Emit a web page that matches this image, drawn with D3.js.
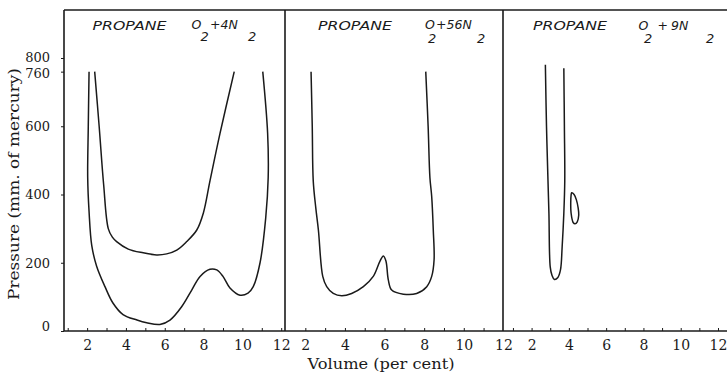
<!DOCTYPE html>
<html><head><meta charset="utf-8">
<script src="https://cdn.jsdelivr.net/npm/d3@7"></script>
<style>
html,body{margin:0;padding:0;background:#fff;}
svg{display:block;}
.tick text{font-family:"DejaVu Serif",serif;fill:#1a1a1a;}
</style></head>
<body>
<svg id="chart" width="727" height="374"></svg>
<script>
// ---------- data ----------
const yTicks = [0, 200, 400, 600, 760, 800];
const xTicks = [2, 4, 6, 8, 10, 12];
const panelTitles = ["PROPANE", "PROPANE", "PROPANE"];
const panelMixtures = [
  [["O", 0], ["2", 1], ["+4N", 0], ["2", 1]],
  [["O", 0], ["2", 1], ["+56N", 0], ["2", 1]],
  [["O", 0], ["2", 1], ["+", 0], ["9N", 0], ["2", 1]]
];
const xLabel = "Volume (per cent)";
const yLabel = "Pressure (mm. of mercury)";

// panel 1 (O2 + 4N2): outer (lower) boundary
const p1Lower = [[2.1,760],[2.06,600],[2.03,450],[2.1,350],[2.24,250],[2.49,190],[2.92,130],[3.33,82],[3.85,48],[4.57,32],[5.07,24],[5.75,19],[6.27,32],[6.87,71],[7.39,120],[7.82,160],[8.33,181],[8.68,179],[9.0,160],[9.36,126],[9.88,105],[10.29,111],[10.56,130],[10.91,200],[11.2,330],[11.33,450],[11.3,580],[11.05,760]];
// panel 1: inner (upper) boundary
const p1Upper = [[2.39,760],[2.62,600],[2.85,430],[3.09,300],[3.3,275],[3.52,262],[4.12,240],[4.89,229],[5.58,223],[6.1,226],[6.62,237],[7.13,262],[7.65,296],[7.99,346],[8.33,440],[8.85,580],[9.58,760]];
// panel 2 (O2 + 5.6N2)
const p2Curve = [[2.29,760],[2.35,600],[2.4,440],[2.53,360],[2.66,296],[2.88,160],[3.08,130],[3.41,110],[3.84,103],[4.34,110],[4.93,130],[5.43,160],[5.77,205],[5.94,220],[6.07,205],[6.19,150],[6.36,120],[6.95,108],[7.62,110],[8.13,130],[8.38,160],[8.5,208],[8.46,296],[8.38,394],[8.29,450],[8.2,600],[8.08,760]];
// panel 3 (O2 + 9N2)
const p3Curve = [[2.74,780],[2.8,600],[2.88,440],[2.93,345],[3.0,188],[3.09,164],[3.23,151],[3.41,157],[3.55,179],[3.64,247],[3.73,345],[3.78,440],[3.76,600],[3.73,770]];
const p3Island = [[4.15,405],[4.28,400],[4.4,385],[4.5,360],[4.53,340],[4.45,320],[4.33,314],[4.23,318],[4.12,345],[4.1,375],[4.12,398]];

// ---------- layout ----------
const ink = "#1a1a1a";
const topY = 10, bottomY = 331;
const borders = [64, 285, 503];
const panelRanges = [[48.3, 281.2], [265.7, 503.4], [494.3, 718]];
const svg = d3.select("#chart");

const y = d3.scaleLinear().domain([0, 800]).range([bottomY, 58]);
const xs = panelRanges.map(r => d3.scaleLinear().domain([0, 12]).range(r));

// frame
svg.append("line").attr("x1", 64).attr("x2", 727).attr("y1", topY).attr("y2", topY)
  .attr("stroke", ink).attr("stroke-width", 1.6);
svg.append("line").attr("x1", 64).attr("x2", 727).attr("y1", bottomY).attr("y2", bottomY)
  .attr("stroke", ink).attr("stroke-width", 1.6);
borders.forEach(b => svg.append("line").attr("x1", b).attr("x2", b).attr("y1", topY).attr("y2", bottomY)
  .attr("stroke", ink).attr("stroke-width", 1.6));

// y axis
const yAxis = svg.append("g").attr("transform", `translate(64,0)`)
  .call(d3.axisLeft(y).tickValues(yTicks).tickSize(3).tickPadding(11));
yAxis.select(".domain").remove();
yAxis.selectAll("line").attr("stroke", ink);
yAxis.selectAll("text").attr("font-size", 13)
  .attr("dy", d => d === 0 ? "-0.05em" : d === 800 ? "0.25em" : d === 760 ? "0.42em" : "0.34em");

// x axes
xs.forEach((x, i) => {
  const g = svg.append("g").attr("transform", `translate(0,${bottomY})`)
    .call(d3.axisBottom(x).tickValues(xTicks).tickSize(0).tickPadding(9));
  g.select(".domain").remove();
  g.selectAll("text").attr("font-size", 14);
  const lo = borders[i] + 2, hi = (borders[i + 1] || 727) - 2;
  const m = svg.append("g").attr("transform", `translate(0,${bottomY})`)
    .call(d3.axisBottom(x).tickValues(d3.range(1, 13).filter(v => x(v) > lo && x(v) < hi)).tickSize(-3).tickFormat(""));
  m.select(".domain").remove();
  m.selectAll("line").attr("stroke", ink);
});

// curves
const line = d3.line().x(d => d[0]).y(d => d[1]).curve(d3.curveCatmullRom.alpha(0.5));
const closed = d3.line().x(d => d[0]).y(d => d[1]).curve(d3.curveCatmullRomClosed.alpha(0.5));
function draw(data, x, gen) {
  svg.append("path").attr("d", gen(data.map(d => [x(d[0]), y(d[1])])))
    .attr("fill", "none").attr("stroke", ink).attr("stroke-width", 1.5)
    .attr("stroke-linejoin", "round");
}
draw(p1Lower, xs[0], line);
draw(p1Upper, xs[0], line);
draw(p2Curve, xs[1], line);
draw(p3Curve, xs[2], line);
draw(p3Island, xs[2], closed);

// titles
const titleFont = "'DejaVu Sans', sans-serif";
const titleX = [92.5, 318, 533];
panelTitles.forEach((t, i) => {
  svg.append("text").attr("x", titleX[i]).attr("y", 29.5)
    .attr("font-family", titleFont).attr("font-style", "italic").attr("font-weight", 300)
    .attr("font-size", 12.5).attr("fill", ink)
    .attr("textLength", 74).attr("lengthAdjust", "spacingAndGlyphs").text(t);
});
// mixture formula piece positions [x, baseline]
const mixPos = [
  [[191.5, 28.5], [200.5, 41], [210, 28.5], [248, 41]],
  [[425, 28.5], [428, 42.5], [436, 28.5], [477, 42.5]],
  [[638.5, 29.5], [644, 42.5], [657.5, 29.5], [671, 29.5], [706, 42.5]]
];
panelMixtures.forEach((pieces, i) => {
  pieces.forEach((p, j) => {
    svg.append("text").attr("x", mixPos[i][j][0]).attr("y", mixPos[i][j][1])
      .attr("font-family", titleFont).attr("font-style", "italic").attr("font-weight", 300)
      .attr("font-size", p[1] ? 13 : 12.5).attr("fill", ink).text(p[0]);
  });
});

// axis labels
svg.append("text").attr("x", 381).attr("y", 369).attr("text-anchor", "middle")
  .attr("font-family", "'DejaVu Serif', serif").attr("font-size", 14.5).attr("fill", ink)
  .attr("textLength", 147).attr("lengthAdjust", "spacingAndGlyphs").text(xLabel);
svg.append("text").attr("transform", "translate(19,184) rotate(-90)").attr("text-anchor", "middle")
  .attr("font-family", "'DejaVu Serif', serif").attr("font-size", 14.5).attr("fill", ink)
  .attr("textLength", 232).attr("lengthAdjust", "spacingAndGlyphs").text(yLabel);
</script>
</body></html>
